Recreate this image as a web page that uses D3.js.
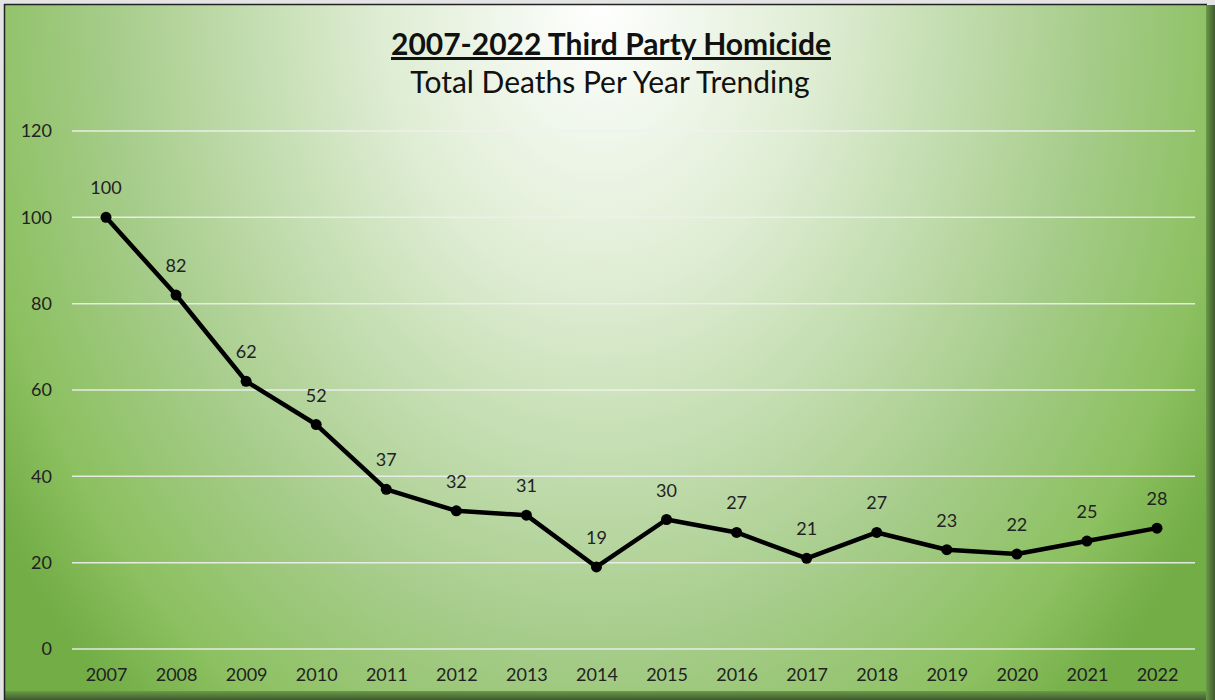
<!DOCTYPE html>
<html><head><meta charset="utf-8">
<script src="https://cdn.jsdelivr.net/npm/d3@7"></script>
<style>html,body{margin:0;padding:0;background:#e6e6e6;}svg{display:block;}</style>
</head><body>
<svg id="chart" width="1215" height="700"></svg>
<script>
const years = ["2007","2008","2009","2010","2011","2012","2013","2014","2015","2016","2017","2018","2019","2020","2021","2022"];
const deaths = [100,82,62,52,37,32,31,19,30,27,21,27,23,22,25,28];
const yTicks = [0,20,40,60,80,100,120];
const titleText = "2007-2022 Third Party Homicide";
const subtitleText = "Total Deaths Per Year Trending";

const svg = d3.select("#chart");
const W = 1215, H = 700;
const font = "Lato, 'Open Sans', sans-serif";

const defs = svg.append("defs");
const rg = defs.append("radialGradient").attr("id","bg")
  .attr("gradientUnits","userSpaceOnUse")
  .attr("cx",0).attr("cy",0).attr("r",1)
  .attr("gradientTransform","translate(600,0) scale(720,950)");
rg.append("stop").attr("offset","0").attr("stop-color","#ffffff");
rg.append("stop").attr("offset","0.3").attr("stop-color","#dfedd4");
rg.append("stop").attr("offset","0.68").attr("stop-color","#a6cc8a");
rg.append("stop").attr("offset","0.88").attr("stop-color","#8cc060");
rg.append("stop").attr("offset","1").attr("stop-color","#72ad46");

const sh = defs.append("linearGradient").attr("id","shB").attr("x1",0).attr("y1",0).attr("x2",0).attr("y2",1);
sh.append("stop").attr("offset","0").attr("stop-color","#6a9a48");
sh.append("stop").attr("offset","1").attr("stop-color","#3f5a2e");
const shR = defs.append("linearGradient").attr("id","shR").attr("x1",0).attr("y1",0).attr("x2",1).attr("y2",0);
shR.append("stop").attr("offset","0").attr("stop-color","#6a9a48");
shR.append("stop").attr("offset","1").attr("stop-color","#3f5a2e");

// outer frame
svg.append("rect").attr("x",0).attr("y",0).attr("width",W).attr("height",H).attr("fill","#e4e4e4");
svg.append("rect").attr("x",5).attr("y",H-9).attr("width",W-5).attr("height",9).attr("fill","url(#shB)");
svg.append("rect").attr("x",W-9).attr("y",5).attr("width",9).attr("height",H-5).attr("fill","url(#shR)");
svg.append("rect").attr("x",5).attr("y",5).attr("width",W-14).attr("height",H-14).attr("fill","url(#bg)");
svg.append("line").attr("x1",4.5).attr("x2",4.5).attr("y1",4).attr("y2",H).attr("stroke","#222").attr("stroke-width",1.5);
svg.append("line").attr("x1",4).attr("x2",W-8).attr("y1",4.5).attr("y2",4.5).attr("stroke","#222").attr("stroke-width",1.5);

const x = d3.scalePoint().domain(years).range([106,1157]);
const y = d3.scaleLinear().domain([0,120]).range([649,131]);

// gridlines
svg.append("g").selectAll("line").data(yTicks).join("line")
  .attr("x1",72).attr("x2",1195)
  .attr("y1",d=>y(d)).attr("y2",d=>y(d))
  .attr("stroke","#f0f0f0").attr("stroke-width",1.5).attr("opacity",0.9);

// y axis
const yAxis = d3.axisLeft(y).tickValues(yTicks).tickSize(0).tickPadding(0);
const gy = svg.append("g").attr("transform","translate(52,0)").call(yAxis);
gy.select(".domain").remove();
gy.selectAll("text").attr("font-family",font).attr("font-size",18).attr("fill","#222").attr("dy","0.32em");

// x axis
const xAxis = d3.axisBottom(x).tickSize(0).tickPadding(0);
const gx = svg.append("g").attr("transform","translate(0,668)").call(xAxis);
gx.select(".domain").remove();
gx.selectAll("text").attr("font-family",font).attr("font-size",18).attr("fill","#222").attr("dy","0.71em");

// line
const data = years.map((yr,i)=>({yr, v:deaths[i]}));
svg.append("path").datum(data)
  .attr("fill","none").attr("stroke","#000").attr("stroke-width",4.5).attr("stroke-linejoin","round")
  .attr("d", d3.line().x(d=>x(d.yr)).y(d=>y(d.v)));
svg.append("g").selectAll("circle").data(data).join("circle")
  .attr("cx",d=>x(d.yr)).attr("cy",d=>y(d.v)).attr("r",5.5).attr("fill","#000");
svg.append("g").selectAll("text").data(data).join("text")
  .attr("x",d=>x(d.yr)).attr("y",d=>y(d.v)-23)
  .attr("text-anchor","middle").attr("font-family",font).attr("font-size",18).attr("fill","#222")
  .text(d=>d.v);

// titles
svg.append("text").attr("x",611).attr("y",55).attr("text-anchor","middle")
  .attr("font-family",font).attr("font-weight","bold").attr("font-size",30).attr("fill","#111")
  .attr("text-decoration","underline").text(titleText);
svg.append("text").attr("x",610).attr("y",93).attr("text-anchor","middle")
  .attr("font-family",font).attr("font-size",30).attr("fill","#111").text(subtitleText);
</script>
</body></html>
